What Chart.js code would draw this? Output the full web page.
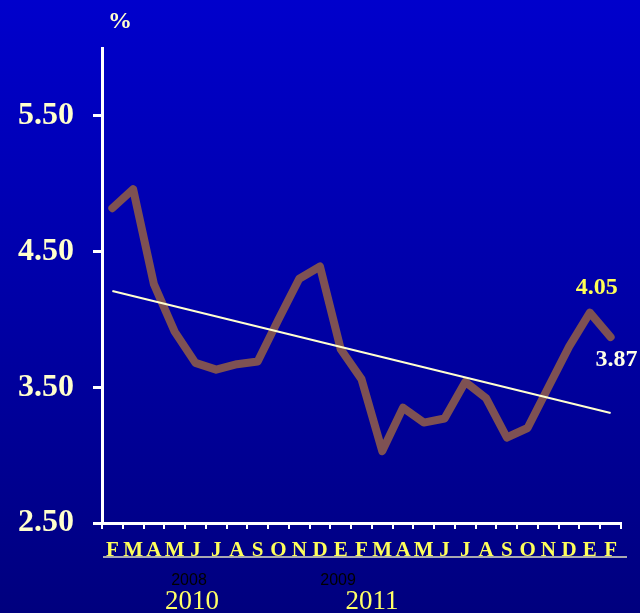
<!DOCTYPE html>
<html>
<head>
<meta charset="utf-8">
<script src="https://cdn.jsdelivr.net/npm/chart.js@4/dist/chart.umd.min.js"></script>
<style>
  html, body { margin: 0; padding: 0; }
  body {
    width: 640px; height: 613px; overflow: hidden;
    background: linear-gradient(to bottom, #0000CC 0%, #0000A6 50%, #00007E 100%);
  }
  canvas { display: block; }
</style>
</head>
<body>
<canvas id="rateChart" width="640" height="613"></canvas>
<script>
// Monthly initials, Feb through the following Feb
const months = ['F','M','A','M','J','J','A','S','O','N','D','E','F','M','A','M','J','J','A','S','O','N','D','E','F'];
// Rate, %
const rates = [4.82, 4.96, 4.26, 3.91, 3.68, 3.63, 3.67, 3.69, 4.00, 4.30, 4.39, 3.78, 3.56,
               3.03, 3.35, 3.24, 3.27, 3.54, 3.42, 3.13, 3.20, 3.50, 3.80, 4.05, 3.87];
// Trend line, first and last month
const trendEnds = [4.21, 3.31];
// Y axis ticks
const yTicks = [2.50, 3.50, 4.50, 5.50];
// Year captions under the month row
const oldYears = ['2008', '2009'];
const newYears = ['2010', '2011'];
// Months whose values are written next to the line
const labelledMonths = [23, 24];

const trend = months.map((_, i) => i === 0 ? trendEnds[0] : (i === months.length - 1 ? trendEnds[1] : null));

const SERIF = '"Liberation Serif", "Times New Roman", serif';
const SANS = '"Liberation Sans", Arial, sans-serif';

const decorPlugin = {
  id: 'decor',
  beforeDatasetsDraw(chart) {
    const { ctx, chartArea, scales } = chart;
    // grey rule under the month letters
    ctx.save();
    ctx.strokeStyle = '#A8A8B0';
    ctx.lineWidth = 2;
    ctx.beginPath();
    ctx.moveTo(chartArea.left + 1, chartArea.bottom + 34);
    ctx.lineTo(chartArea.right + 6, chartArea.bottom + 34);
    ctx.stroke();

    // percent sign above the value axis
    ctx.fillStyle = '#FFFFCC';
    ctx.font = 'bold 24px ' + SERIF;
    ctx.textAlign = 'center';
    ctx.textBaseline = 'middle';
    ctx.fillText('%', chartArea.left + 18, chartArea.top - 26);

    // year captions
    const x = scales.x;
    const oldPos = [3.69, 10.87];
    const newPos = [3.84, 12.5];
    ctx.fillStyle = '#000000';
    ctx.font = '16px ' + SANS;
    oldYears.forEach((t, i) => ctx.fillText(t, x.getPixelForValue(oldPos[i]), chartArea.bottom + 58));
    ctx.fillStyle = '#FFFF66';
    ctx.font = '27px ' + SERIF;
    newYears.forEach((t, i) => ctx.fillText(t, x.getPixelForValue(newPos[i]), chartArea.bottom + 79));
    ctx.restore();
  },
  afterDatasetsDraw(chart) {
    const { ctx } = chart;
    const meta = chart.getDatasetMeta(1);
    ctx.save();
    ctx.font = 'bold 24px ' + SERIF;
    ctx.textAlign = 'center';
    ctx.textBaseline = 'middle';
    const styles = [
      { color: '#FFFF55', dx: 7, dy: -25 },
      { color: '#FFFFE6', dx: 6, dy: 23 }
    ];
    labelledMonths.forEach((idx, k) => {
      const pt = meta.data[idx];
      ctx.fillStyle = styles[k].color;
      ctx.fillText(rates[idx].toFixed(2), pt.x + styles[k].dx, pt.y + styles[k].dy);
    });
    ctx.restore();
  }
};

new Chart(document.getElementById('rateChart'), {
  type: 'line',
  data: {
    labels: months,
    datasets: [
      {
        label: 'Tendencia',
        data: trend,
        spanGaps: true,
        borderColor: '#FFFFD0',
        borderWidth: 2,
        pointRadius: 0,
        tension: 0,
        order: 0
      },
      {
        label: 'Tasa',
        data: rates,
        borderColor: '#7E5153',
        borderWidth: 8,
        borderCapStyle: 'round',
        borderJoinStyle: 'round',
        pointRadius: 0,
        tension: 0,
        order: 1
      }
    ]
  },
  options: {
    responsive: false,
    devicePixelRatio: 1,
    animation: false,
    layout: { padding: { top: 48, right: 19, left: 0, bottom: 0 } },
    plugins: {
      legend: { display: false },
      tooltip: { enabled: false }
    },
    scales: {
      x: {
        type: 'category',
        offset: true,
        afterFit(scale) { scale.height = 90; },
        border: { display: true, color: '#FFFFFF', width: 3 },
        grid: {
          offset: true,
          drawOnChartArea: false,
          drawTicks: true,
          tickLength: 6,
          color: '#FFFFFF',
          lineWidth: 2
        },
        ticks: {
          autoSkip: false,
          maxRotation: 0,
          padding: 9,
          color: '#FFFF5A',
          font: { family: SERIF, size: 21, weight: 'bold' }
        }
      },
      y: {
        min: 2.5,
        max: 6.0,
        afterFit(scale) { scale.width = 102; },
        afterBuildTicks(scale) { scale.ticks = yTicks.map(v => ({ value: v })); },
        border: { display: true, color: '#FFFFFF', width: 3 },
        grid: {
          drawOnChartArea: false,
          drawTicks: true,
          tickLength: 9,
          color: '#FFFFFF',
          lineWidth: 3
        },
        ticks: {
          padding: 19,
          color: '#FFFFCC',
          font: { family: SERIF, size: 32, weight: 'bold' },
          callback: v => Number(v).toFixed(2)
        }
      }
    }
  },
  plugins: [decorPlugin]
});
</script>
</body>
</html>
